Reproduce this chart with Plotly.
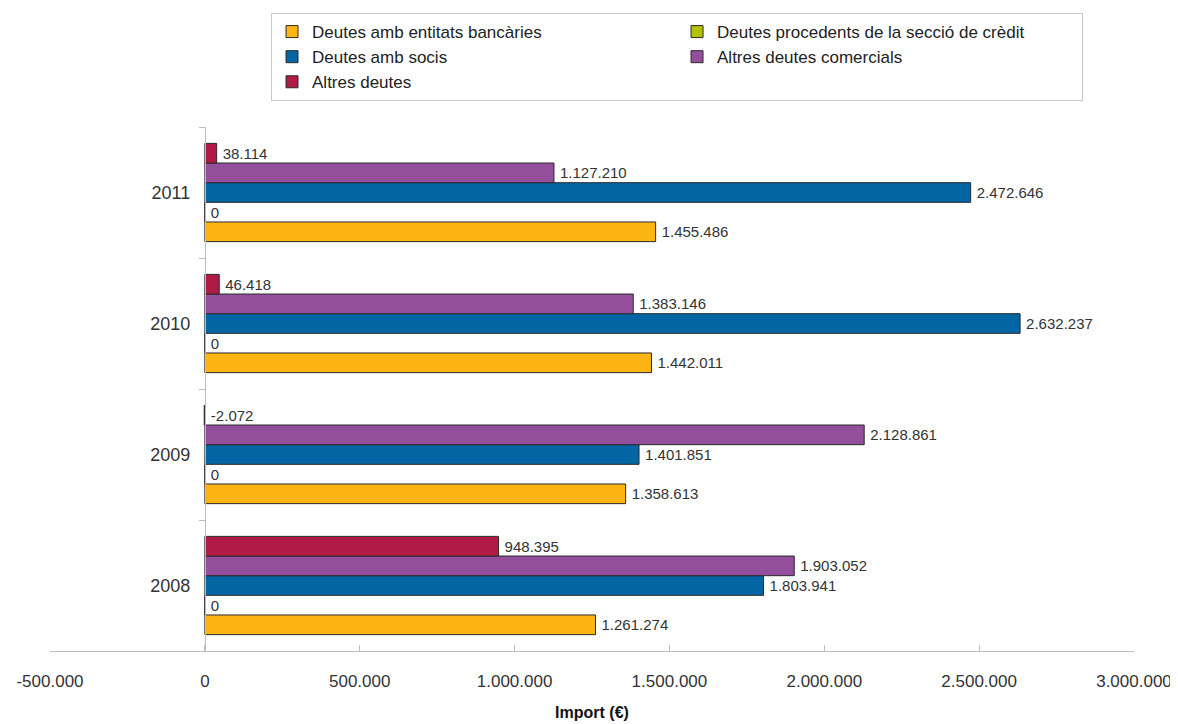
import plotly.graph_objects as go

anys = ["2008", "2009", "2010", "2011"]

bancaries = [1261274, 1358613, 1442011, 1455486]
seccio_credit = [0, 0, 0, 0]
socis = [1803941, 1401851, 2632237, 2472646]
comercials = [1903052, 2128861, 1383146, 1127210]
altres = [948395, -2072, 46418, 38114]

series = [
    ("Deutes amb entitats bancàries", bancaries, "#FDB515"),
    ("Deutes procedents de la secció de crèdit", seccio_credit, "#B5C200"),
    ("Deutes amb socis", socis, "#0465A5"),
    ("Altres deutes comercials", comercials, "#944F9C"),
    ("Altres deutes", altres, "#B01A45"),
]

x_ticks = [-500000, 0, 500000, 1000000, 1500000, 2000000, 2500000, 3000000]
x_ticktext = ["-500.000", "0", "500.000", "1.000.000", "1.500.000",
              "2.000.000", "2.500.000", "3.000.000"]


def fmt(v):
    return f"{v:,}".replace(",", ".")


fig = go.Figure()

for name, vals, col in series:
    fig.add_trace(go.Bar(
        name=name, y=anys, x=vals, orientation="h",
        marker=dict(color=col, line=dict(color="#2a2a2a", width=1)),
    ))

# labels on an overlaid axis so they always sit right of zero
for name, vals, col in series:
    fig.add_trace(go.Bar(
        y=anys, x=[max(v, 0) for v in vals], orientation="h", yaxis="y2",
        marker=dict(color="rgba(0,0,0,0)", line=dict(width=0)),
        text=["\u2009" + fmt(v) for v in vals], textposition="outside",
        textfont=dict(size=15, color="#333333"), cliponaxis=False,
        showlegend=False, hoverinfo="skip",
    ))

fig.update_layout(
    width=1178, height=724,
    paper_bgcolor="white", plot_bgcolor="white",
    font=dict(family="Liberation Sans, Arial, sans-serif", color="#333333"),
    barmode="group", bargap=0.25, bargroupgap=0,
    margin=dict(l=42, r=52, t=119, b=81, autoexpand=False),
    legend=dict(
        orientation="h", x=0.2039, y=1.2175, xanchor="left", yanchor="top",
        entrywidth=360, entrywidthmode="pixels",
        bordercolor="#c8c8c8", borderwidth=1, bgcolor="white",
        font=dict(size=17, color="#222222"), traceorder="normal",
        itemwidth=30,
    ),
    xaxis=dict(
        range=[-500000, 3000000], tickvals=x_ticks, ticktext=x_ticktext,
        showgrid=False, zeroline=False, showline=True, linecolor="#bdbdbd",
        ticks="inside", ticklen=6, tickcolor="#bdbdbd",
        tickfont=dict(size=17, color="#333333"), ticklabelstandoff=15,
        title=dict(text="<b>Import (€)</b>", font=dict(size=16, color="#111111"),
                   standoff=16),
    ),
    yaxis=dict(
        categoryorder="array", categoryarray=anys,
        anchor="free", position=1 / 7,
        showgrid=False, zeroline=False, showline=True, linecolor="#bdbdbd",
        ticks="outside", ticklen=6, tickcolor="#bdbdbd", tickson="boundaries",
        tickfont=dict(size=18, color="#333333"), ticklabelstandoff=11,
    ),
    yaxis2=dict(
        categoryorder="array", categoryarray=anys, overlaying="y",
        anchor="x", visible=False,
    ),
)

fig.write_html("out.html")
